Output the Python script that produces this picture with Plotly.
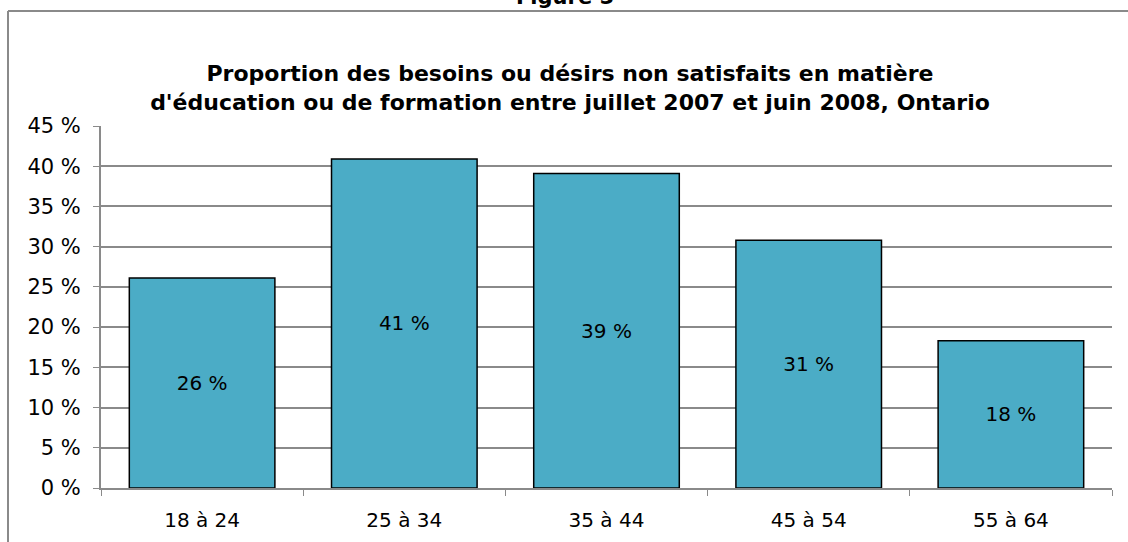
import plotly.graph_objects as go

categories = ["18 à 24", "25 à 34", "35 à 44", "45 à 54", "55 à 64"]
values = [26.1, 40.9, 39.1, 30.8, 18.3]
labels = ["26 %", "41 %", "39 %", "31 %", "18 %"]
y_ticks = [0, 5, 10, 15, 20, 25, 30, 35, 40, 45]

FONT = "DejaVu Sans, Verdana, sans-serif"
GRAY = "#8a8a8a"

fig = go.Figure(
    go.Bar(
        x=categories,
        y=values,
        text=labels,
        textposition="inside",
        insidetextanchor="middle",
        textfont=dict(family=FONT, size=20, color="#000000"),
        marker=dict(color="#4BACC6", line=dict(color="#000000", width=1.5)),
        width=0.72,
        hoverinfo="skip",
    )
)

L, R, T, B = 101, 16, 126, 54
W, H = 1128, 542
pw = W - L - R
ph = H - T - B

def px(x):
    return (x - L) / pw

def py(y):
    return 1 - (y - T) / ph

fig.update_layout(
    width=W,
    height=H,
    margin=dict(l=L, r=R, t=T, b=B, pad=0, autoexpand=False),
    paper_bgcolor="white",
    plot_bgcolor="white",
    showlegend=False,
    font=dict(family=FONT, size=20, color="#000000"),
    title=dict(
        text="<b>Proportion des besoins ou désirs non satisfaits en matière<br>d'éducation ou de formation entre juillet 2007 et juin 2008, Ontario</b>",
        x=570 / W,
        xanchor="center",
        y=1 - 81 / H,
        yanchor="middle",
        font=dict(family=FONT, size=22, color="#000000"),
    ),
    annotations=[
        dict(
            text="<b>Figure 5</b>",
            xref="paper", yref="paper",
            x=px(565), y=py(-3),
            xanchor="center", yanchor="middle",
            showarrow=False,
            font=dict(family=FONT, size=21, color="#000000"),
        )
    ],
    shapes=[
        dict(type="line", xref="paper", yref="paper",
             x0=px(8), x1=px(1128), y0=py(11), y1=py(11),
             line=dict(color=GRAY, width=2)),
        dict(type="line", xref="paper", yref="paper",
             x0=px(8), x1=px(8), y0=py(11), y1=py(545),
             line=dict(color=GRAY, width=2)),
    ],
    xaxis=dict(
        type="category",
        tickson="boundaries",
        ticks="outside",
        ticklen=6,
        tickcolor=GRAY,
        showline=True,
        linecolor=GRAY,
        linewidth=2,
        showgrid=False,
        automargin=False,
        ticklabelstandoff=13,
        tickfont=dict(family=FONT, size=20, color="#000000"),
        fixedrange=True,
    ),
    yaxis=dict(
        range=[0, 45],
        tickvals=y_ticks,
        ticktext=[f"{v} %" for v in y_ticks],
        ticks="outside",
        ticklen=6,
        tickcolor=GRAY,
        showline=True,
        linecolor=GRAY,
        linewidth=2,
        showgrid=True,
        gridcolor=GRAY,
        gridwidth=1.5,
        zeroline=False,
        automargin=False,
        ticklabelstandoff=8,
        tickfont=dict(family=FONT, size=21, color="#000000"),
        fixedrange=True,
    ),
    bargap=0.28,
)

fig.write_html(
    "out.html",
    config={"displayModeBar": False},
    post_script="document.body.style.margin='0';",
)
